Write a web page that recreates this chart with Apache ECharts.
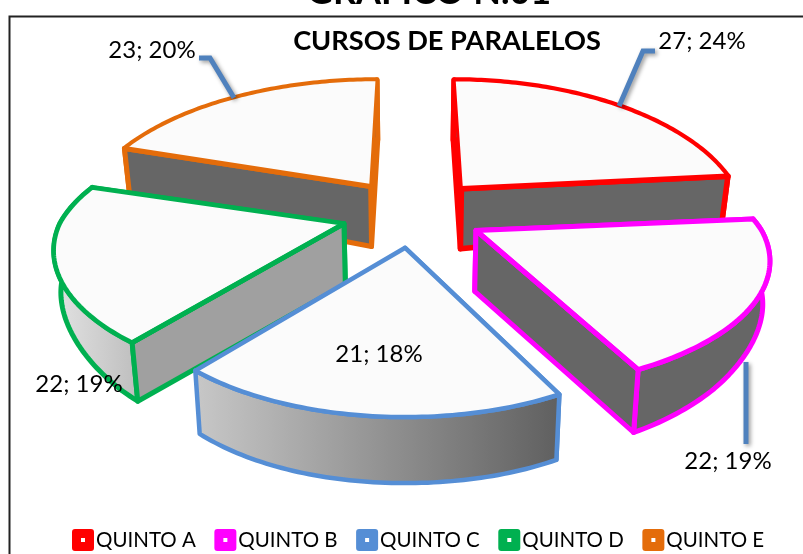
<!DOCTYPE html>
<html>
<head>
<meta charset="utf-8">
<style>
  html, body { margin: 0; padding: 0; background: #fff; }
  #chart { width: 803px; height: 554px; }
</style>
<script src="https://cdn.jsdelivr.net/npm/echarts@6/dist/echarts.min.js"></script>
</head>
<body>
<div id="chart"></div>
<script>
var categories = ['QUINTO A', 'QUINTO B', 'QUINTO C', 'QUINTO D', 'QUINTO E'];
var values = [27, 22, 21, 22, 23];
var percents = [24, 19, 18, 19, 20];
var colors = ['#ff0000', '#ff00ff', '#558ed5', '#00b050', '#e46c0a'];
var labelColor = '#4f81bd';

// pie geometry: tilted disc with a bit of perspective
var cx = 413, cy = 214;
var radiusX = 280, radiusY = 132, perspective = 0.236, converge = 0.15;
var explodeX = 72, explodeY = 34;

// small per slice corrections, the original picture is not a perfect ellipse
var scaleX = [0.98, 1.02, 0.97, 1.015, 1];
var scaleY = [1.02, 0.93, 0.98, 0.95, 1];
var skewX = [0, 0, 0, -10, 0];
var rimWidth = [3, 5, 4.5, 4.5, 3];
var edgeWidth = [5.5, 5, 4.5, 5, 5];

var total = values.reduce(function (a, b) { return a + b; }, 0);
var toRad = Math.PI / 180;

function sliceAngles(i) {
  var start = 0;
  for (var k = 0; k < i; k++) start += values[k];
  return [start / total * 360, (start + values[i]) / total * 360];
}

function apexOf(i) {
  var a = sliceAngles(i);
  var mid = (a[0] + a[1]) / 2 * toRad;
  return [cx + explodeX * Math.sin(mid), cy - explodeY * Math.cos(mid)];
}

function rimPoint(i, deg) {
  var apex = apexOf(i);
  var s = Math.sin(deg * toRad), c = Math.cos(deg * toRad);
  var w = 1 + perspective * c;
  var shift = c > 0 ? (apex[0] - cx) * converge * c : 0;
  return [
    apex[0] + radiusX * scaleX[i] * s / w - shift + skewX[i] * c,
    apex[1] - radiusY * scaleY[i] * c / w
  ];
}

// extrude a top point down to the bottom of the disc
function below(p) {
  var front = Math.min(1, Math.max(0, (p[1] - cy) / 120));
  var side = Math.pow(Math.abs(p[0] - cx) / 340, 4);
  return [p[0] - (p[0] - cx) * 0.02, p[1] + 60 + 6 * front - 16 * side];
}

function rimPoints(i) {
  var a = sliceAngles(i), pts = [];
  var steps = Math.ceil(a[1] - a[0]);
  for (var k = 0; k <= steps; k++) pts.push(rimPoint(i, a[0] + (a[1] - a[0]) * k / steps));
  return pts;
}

function face(points, fill, stroke, width) {
  return {
    type: 'polygon',
    shape: { points: points },
    style: { fill: fill, stroke: stroke, lineWidth: width, lineJoin: 'round' }
  };
}

function gradient(from, to) {
  return new echarts.graphic.LinearGradient(0, 0, 1, 0, [
    { offset: 0, color: from }, { offset: 1, color: to }
  ]);
}

// fills for the side walls of each slice
var wallFills = [
  ['#666666', '#666666'],
  ['#666666', '#666666'],
  ['#c8c8c8', '#5f5f5f'],
  ['#e4e4e4', '#bdbdbd'],
  ['#666666', '#666666']
];
var radialFills = ['#666666', '#666666', '#666666', '#a0a0a0', '#666666'];
// which cut face looks at the viewer: first or last edge of the slice
var frontEdge = ['last', 'last', null, 'first', 'first'];

function renderSlice(i) {
  return function () {
    var apex = apexOf(i);
    var rim = rimPoints(i);
    var first = rim[0], last = rim[rim.length - 1];
    var color = colors[i];
    var wall = rim.concat(rim.slice().reverse().map(below));
    var backEnd = frontEdge[i] === 'first' ? last : first;
    var frontEnd = frontEdge[i] === 'first' ? first : last;
    var children = [
      face([apex, backEnd, below(backEnd), below(apex)], radialFills[i], color, edgeWidth[i]),
      face(wall, gradient(wallFills[i][0], wallFills[i][1]), color, edgeWidth[i])
    ];
    if (frontEdge[i]) {
      children.push(face([apex, frontEnd, below(frontEnd), below(apex)], radialFills[i], color, edgeWidth[i]));
    }
    children.push(face([apex].concat(rim), '#fbfbfb', color, rimWidth[i]));
    if (frontEdge[i]) {
      children.push({
        type: 'polyline',
        shape: { points: [apex, frontEnd] },
        style: { fill: null, stroke: color, lineWidth: edgeWidth[i], lineCap: 'round' }
      });
    }
    return { type: 'group', children: children };
  };
}

// back slices first, blue last because it sits over the green wall
var drawOrder = [4, 0, 3, 1, 2];
var series = categories.map(function (name, i) {
  return {
    type: 'custom',
    name: name,
    coordinateSystem: 'none',
    z: 2 + drawOrder.indexOf(i),
    itemStyle: { color: colors[i] },
    silent: true,
    data: [values[i]],
    renderItem: renderSlice(i)
  };
});

// label centres and the free end of the leader lines (null = no line)
var labelPos = [[702, 41], [728, 461], [379, 354], [79, 384], [152, 50]];
var leaderEnds = [
  [[643, 51], [655, 51]],
  [[746, 444]],
  null,
  null,
  [[210, 58], [199, 58]]
];
var leaderDeg = [44, 125, 0, 0, 323];

function leaderStart(i) {
  var p = rimPoint(i, leaderDeg[i]);
  // the line of the B slice starts under the wall, straight above its label
  return i === 1 ? [leaderEnds[i][0][0], below(p)[1]] : p;
}

series.push({
  type: 'custom',
  name: 'etiquetas',
  coordinateSystem: 'none',
  z: 20,
  silent: true,
  data: values,
  renderItem: function (params) {
    var i = params.dataIndex;
    var children = [];
    if (leaderEnds[i]) {
      children.push({
        type: 'polyline',
        shape: { points: [leaderStart(i)].concat(leaderEnds[i]) },
        style: {
          fill: null, stroke: labelColor, lineWidth: 5,
          shadowBlur: 4, shadowColor: 'rgba(0,0,0,0.4)', shadowOffsetX: 2, shadowOffsetY: 2
        }
      });
    }
    children.push({
      type: 'text',
      style: {
        x: labelPos[i][0], y: labelPos[i][1],
        text: values[i] + '; ' + percents[i] + '%',
        fill: '#000', font: '24px Lato, Carlito, sans-serif',
        align: 'center', verticalAlign: 'middle'
      }
    });
    return { type: 'group', children: children };
  }
});

// rounded square with a small white hole in the middle
var legendIcon = 'path://M3 0H19Q22 0 22 3V19Q22 22 19 22H3Q0 22 0 19V3Q0 0 3 0Z M9 9V13H13V9Z';

var chart = echarts.init(document.getElementById('chart'));
chart.setOption({
  backgroundColor: '#fff',
  animation: false,
  title: [
    {
      text: 'GRAFICO N.01',
      left: 424, top: -31, textAlign: 'center',
      textStyle: { fontFamily: 'Lato, Carlito, sans-serif', fontWeight: 'bold', fontSize: 36, color: '#000' }
    },
    {
      text: 'CURSOS DE PARALELOS',
      left: 442, top: 23, textAlign: 'center',
      textStyle: { fontFamily: 'Lato, Carlito, sans-serif', fontWeight: 'bold', fontSize: 27.2, color: '#000' }
    }
  ],
  legend: {
    data: categories,
    left: 72, top: 529,
    icon: legendIcon,
    itemWidth: 22, itemHeight: 22, itemGap: 18.5,
    padding: 0,
    selectedMode: false,
    textStyle: { fontFamily: 'Lato, Carlito, sans-serif', fontSize: 20.5, color: '#000', padding: [3, 0, 0, -3] }
  },
  graphic: [{
    type: 'polyline',
    silent: true,
    shape: { points: [[9.5, 600], [9.5, 16.5], [810, 16.5]] },
    style: { fill: null, stroke: '#222', lineWidth: 2 }
  }],
  series: series
});
</script>
</body>
</html>
